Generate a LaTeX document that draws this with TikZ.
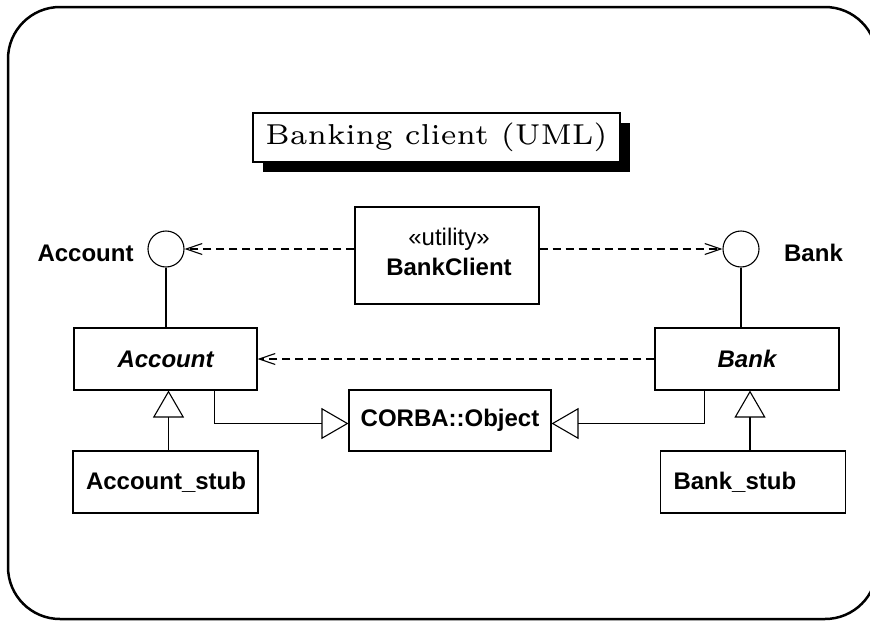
\documentclass[tikz,border=0pt]{standalone}
\usepackage{fontspec}
\newfontfamily\umlfont{Liberation Sans}
\newfontfamily\titlefont{lmroman6-regular.otf}
\usetikzlibrary{arrows.meta,shadows}

\begin{document}
\begin{tikzpicture}[x=1pt,y=-1pt,
  umlbox/.style={draw, line width=1.1pt, inner sep=0pt},
  iface/.style={draw, circle, line width=1.1pt, minimum size=36pt, inner sep=0pt},
  sansbf/.style={font=\umlfont\fontsize{24}{28}\selectfont\bfseries},
  sansbi/.style={font=\umlfont\fontsize{24}{28}\selectfont\bfseries\itshape},
  stubbox/.style={umlbox, sansbf, minimum height=62pt, text width=159pt, align=left, inner xsep=13pt},
  dep/.style={draw, line width=1.1pt, dash pattern=on 8pt off 5pt,
    -{Straight Barb[length=16pt,width=11pt,line width=1.1pt]}},
  gen/.style={draw, line width=1.1pt, -{Triangle[open,length=27pt,width=31pt]}},
  link/.style={draw, line width=1.1pt}
]
\useasboundingbox (0,0) rectangle (870,621);
\clip (0,0) rectangle (870,621);

% slide frame
\draw[line width=2.5pt, rounded corners=52pt] (8,7) rectangle (877,619);

% title with drop shadow
\node[draw, line width=2pt, fill=white, minimum width=367pt, minimum height=49pt,
  inner sep=0pt, drop shadow={shadow xshift=10pt, shadow yshift=-10pt, fill=black, opacity=1},
  font=\titlefont\fontsize{28.8}{34}\selectfont] (title) at (436.5,137.5) {Banking client (UML)};

% interfaces (lollipops)
\node[iface] (ifA) at (166,249) {};
\node[iface] (ifB) at (741,249) {};
\node[sansbf] (lblA) at (85.5,253) {Account};
\node[sansbf] (lblB) at (813.5,253) {Bank};

% utility class
\node[umlbox, minimum width=184pt, minimum height=97pt] (client) at (447,255.5) {};
\node[font=\umlfont\fontsize{24}{30}\selectfont, align=center] (clientTxt) at (449,251.5)
  {«utility»\\\bfseries BankClient};

% abstract classes
\node[umlbox, sansbi, minimum width=183pt, minimum height=62pt] (accA) at (165.5,359) {Account};
\node[umlbox, sansbi, minimum width=184pt, minimum height=62pt] (bankB) at (747,359) {Bank};

% base object
\node[umlbox, sansbf, minimum width=202pt, minimum height=61pt] (corba) at (450,420.5) {CORBA::Object};

% stubs
\node[stubbox] (stubA) at (165.5,482) {Account\_stub};
\node[stubbox] (stubB) at (753,482) {Bank\_stub};

% dependencies
\draw[dep] (client.west |- ifA) -- (ifA.east);
\draw[dep] (client.east |- ifB) -- (ifB.west);
\draw[dep] (bankB.west) -- (accA.east);

% interface realisation
\draw[link] (ifA.south) -- (ifA.south |- accA.north);
\draw[link] (ifB.south) -- (ifB.south |- bankB.north);

% generalisations
\draw[gen] ([xshift=3pt]stubA.north) -- ([xshift=3pt]stubA.north |- accA.south);
\draw[gen] ([xshift=-3pt]stubB.north) -- ([xshift=-3pt]stubB.north |- bankB.south);
\draw[gen] ([xshift=48.8pt]accA.south) |- ([yshift=-3pt]corba.west);
\draw[gen] ([xshift=-42.7pt]bankB.south) |- ([yshift=-3pt]corba.east);
\end{tikzpicture}
\end{document}
